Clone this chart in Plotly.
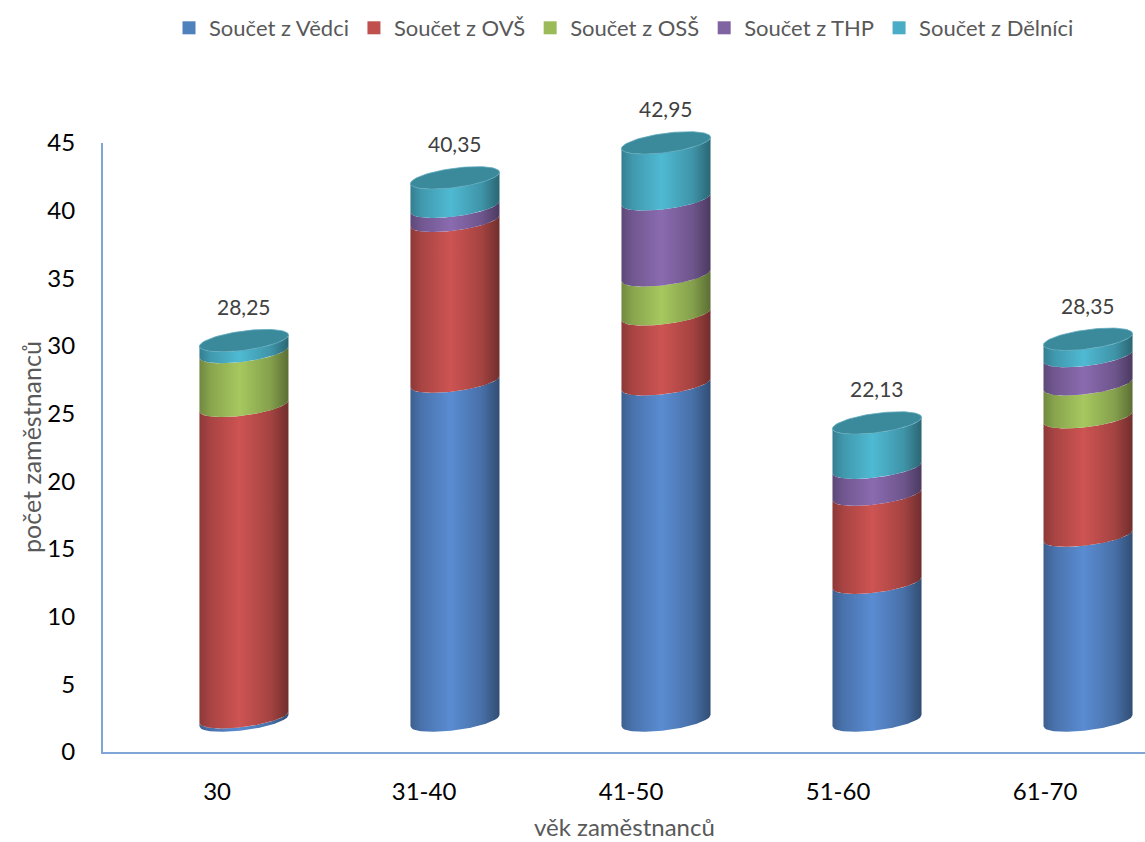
import numpy as np
import plotly.graph_objects as go

categories = ["30", "31-40", "41-50", "51-60", "61-70"]
series_names = ["Součet z Vědci", "Součet z OVŠ", "Součet z OSŠ", "Součet z THP", "Součet z Dělníci"]
vedci = [0.25, 25.2, 25.0, 10.25, 13.75]
ovs = [23.15, 11.95, 5.2, 6.55, 8.8]
oss = [4.0, 0.0, 2.9, 0.0, 2.45]
thp = [0.0, 1.05, 5.65, 2.0, 2.1]
delnici = [0.85, 2.15, 4.2, 3.33, 1.25]
totals = [28.25, 40.35, 42.95, 22.13, 28.35]
y_ticks = [0, 5, 10, 15, 20, 25, 30, 35, 40, 45]

series_values = [vedci, ovs, oss, thp, delnici]
legend_colors = ["#4F81BD", "#C0504D", "#9BBB59", "#8064A2", "#4BACC6"]
body_colors = ["#5A8CD2", "#CD5452", "#A6C85F", "#8A6BB0", "#4FBAD3"]
cap_color = "#3A8A9C"
axis_color = "#7FA6D6"


def shade(hex_color, f):
    h = hex_color.lstrip("#")
    r, g, b = (int(h[i:i + 2], 16) for i in (0, 2, 4))
    return "rgb(%d,%d,%d)" % (min(255, r * f), min(255, g * f), min(255, b * f))


def gradient(hex_color):
    return [[0.0, shade(hex_color, 0.68)], [0.12, shade(hex_color, 0.82)],
            [0.45, shade(hex_color, 1.0)], [0.8, shade(hex_color, 0.8)],
            [1.0, shade(hex_color, 0.55)]]


# cylinder geometry (in hidden x2/y2 axis units)
half_w = 0.211
ry = 0.72
tilt = 0.42
u = np.linspace(-1, 1, 60)

fig = go.Figure()

for s, (name, vals) in enumerate(zip(series_names, series_values)):
    for i in range(len(categories)):
        v = vals[i]
        if v <= 0:
            continue
        lo = sum(series_values[k][i] for k in range(s))
        hi = lo + v
        xs_b = i + half_w * u
        ys_b = lo + tilt * u - ry * np.sqrt(1 - u ** 2)
        xs_t = (i + half_w * u)[::-1]
        ys_t = (hi + tilt * u - ry * np.sqrt(1 - u ** 2))[::-1]
        fig.add_trace(go.Scatter(
            x=np.concatenate([xs_b, xs_t]), y=np.concatenate([ys_b, ys_t]),
            xaxis="x2", yaxis="y2", mode="lines", line=dict(width=0),
            fill="toself", fillgradient=dict(type="horizontal", colorscale=gradient(body_colors[s])),
            showlegend=False, hoverinfo="skip"))

# top caps
th = np.linspace(0, 2 * np.pi, 100)
for i in range(len(categories)):
    top = sum(series_values[k][i] for k in range(len(series_values)))
    fig.add_trace(go.Scatter(
        x=i + half_w * np.cos(th), y=top + tilt * np.cos(th) + ry * np.sin(th),
        xaxis="x2", yaxis="y2", mode="lines", line=dict(width=0.8, color="#5FA9BC"),
        fill="toself", fillcolor=cap_color, showlegend=False, hoverinfo="skip"))

# legend entries
for name, col in zip(series_names, legend_colors):
    fig.add_trace(go.Scatter(x=[None], y=[None], mode="markers", name=name,
                             marker=dict(symbol="square", size=13, color=col)))

for i, t in enumerate(totals):
    fig.add_annotation(x=i, y=t, xref="x2", yref="y2", yshift=34, showarrow=False,
                       xanchor="center", yanchor="middle",
                       text=f"{t:.2f}".replace(".", ","),
                       font=dict(family="Lato", size=21, color="#404040"))

plot_h = 842 - 90
fig.add_annotation(x=0.5, y=(752 - 826) / plot_h, xref="paper", yref="paper", showarrow=False,
                   xanchor="center", yanchor="middle",
                   text="věk zaměstnanců", font=dict(family="Lato", size=24, color="#595959"))
fig.add_annotation(x=(31 - 103) / 1042, y=(752 - 447) / plot_h, xref="paper", yref="paper",
                   showarrow=False, xanchor="center", yanchor="middle",
                   text="počet zaměstnanců", textangle=-90,
                   font=dict(family="Lato", size=25, color="#595959"))

fig.update_layout(
    width=1145, height=842,
    margin=dict(l=103, r=0, t=0, b=90, autoexpand=False),
    paper_bgcolor="white", plot_bgcolor="rgba(0,0,0,0)",
    font=dict(family="Lato", color="#000000"),
    showlegend=True,
    legend=dict(orientation="h", x=0.5, xanchor="center", y=1 - 7 / plot_h, yanchor="top",
                bgcolor="rgba(0,0,0,0)",
                font=dict(family="Lato", size=22, color="#595959"), itemwidth=30),
    xaxis=dict(domain=[0, 1], range=[-0.551, 4.483], tickvals=list(range(len(categories))),
               ticktext=categories, showline=True, linecolor=axis_color, linewidth=2,
               showgrid=False, zeroline=False, ticks="", ticklabelstandoff=17,
               tickfont=dict(family="Lato", size=24, color="#000000"), anchor="y"),
    yaxis=dict(domain=[0, 609 / plot_h], range=[0, 45], tickvals=y_ticks,
               showline=True, linecolor=axis_color, linewidth=2, showgrid=False,
               zeroline=False, ticks="", ticklabelstandoff=21,
               tickfont=dict(family="Lato", size=24, color="#000000"), anchor="x"),
    xaxis2=dict(domain=[0, 1], range=[-0.668, 4.270], visible=False, anchor="y2"),
    yaxis2=dict(domain=[0, 1], range=[-2.334, -2.334 + plot_h / 13.451], visible=False, anchor="x2"),
)

fig.write_html("out.html")
